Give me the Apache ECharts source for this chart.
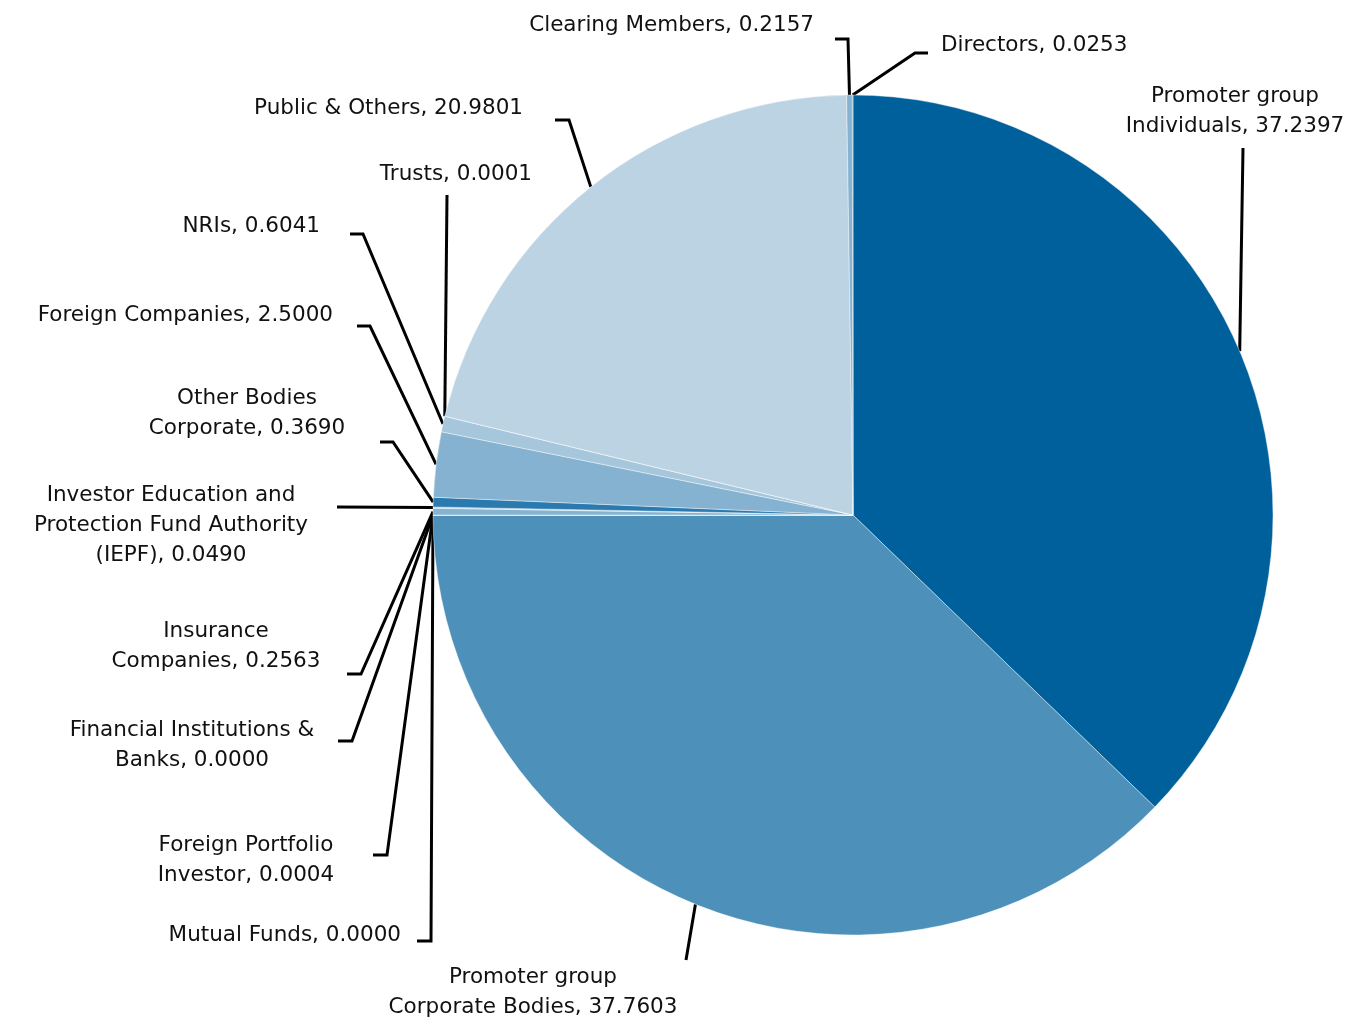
<!DOCTYPE html>
<html>
<head>
<meta charset="utf-8">
<script src="https://cdn.jsdelivr.net/npm/echarts@6/dist/echarts.min.js"></script>
<style>
html,body{margin:0;padding:0;background:#fff;}
#chart{width:1349px;height:1019px;}
</style>
</head>
<body>
<div id="chart"></div>
<script>
// ---- data ----
var categories = [
  'Promoter group\nIndividuals',
  'Promoter group\nCorporate Bodies',
  'Mutual Funds',
  'Foreign Portfolio\nInvestor',
  'Financial Institutions &\nBanks',
  'Insurance\nCompanies',
  'Investor Education and\nProtection Fund Authority\n(IEPF)',
  'Other Bodies\nCorporate',
  'Foreign Companies',
  'NRIs',
  'Trusts',
  'Public & Others',
  'Clearing Members',
  'Directors'
];
var values = [37.2397, 37.7603, 0.0000, 0.0004, 0.0000, 0.2563, 0.0490, 0.3690, 2.5000, 0.6041, 0.0001, 20.9801, 0.2157, 0.0253];

// ---- styles ----
var colors = ['#00609c', '#4d91bb', '#2a7ab0', '#2a7ab0', '#2a7ab0', '#86b3d1', '#bbd3e3', '#2a7ab0', '#85b2d0', '#a6c6dc', '#bbd3e3', '#bbd3e3', '#86b3d1', '#4d91bb'];

// label placement: [x, y, align], and label-line bend points near the text
var labelPlace = [
  [1235, 111, 'center'],
  [533, 992, 'center'],
  [401, 935, 'right'],
  [246, 860, 'center'],
  [192, 745, 'center'],
  [216, 646, 'center'],
  [171, 525, 'center'],
  [247, 413, 'center'],
  [333, 315, 'right'],
  [320, 226, 'right'],
  [532, 174, 'right'],
  [523, 108, 'right'],
  [814, 25, 'right'],
  [941, 45, 'left']
];
var lineBends = [
  [[1243, 148]],
  [[686, 960]],
  [[431, 941], [417, 941]],
  [[387, 855], [373, 855]],
  [[352, 741], [338, 741]],
  [[361, 674], [347, 674]],
  [[337, 507]],
  [[393, 442], [380, 442]],
  [[370, 326], [357, 326]],
  [[363, 234], [350, 234]],
  [[447, 195]],
  [[569, 120], [555, 120]],
  [[848, 39], [835, 39]],
  [[915, 53], [928, 53]]
];

var chart = echarts.init(document.getElementById('chart'), null, {renderer: 'canvas'});
var data = categories.map(function (c, i) {
  return { name: c, value: values[i], itemStyle: { color: colors[i] } };
});

chart.setOption({
  animation: false,
  backgroundColor: '#ffffff',
  series: [{
    type: 'pie',
    center: [853, 515],
    radius: 420,
    startAngle: 90,
    clockwise: true,
    avoidLabelOverlap: false,
    minShowLabelAngle: 0,
    data: data,
    itemStyle: { borderColor: '#ffffff', borderWidth: 0.4 },
    emphasis: { disabled: true },
    label: {
      show: true,
      position: 'outside',
      fontFamily: 'DejaVu Sans',
      fontSize: 21.5,
      lineHeight: 30,
      color: '#111111',
      formatter: function (p) { return p.name + ', ' + p.value.toFixed(4); }
    },
    labelLine: {
      show: true,
      smooth: false,
      length: 10,
      length2: 10,
      lineStyle: { color: '#000000', width: 3 }
    }
  }]
});

chart.setOption({
  series: [{
    labelLayout: function (params) {
      var i = params.dataIndex;
      var pl = labelPlace[i];
      var res = { x: pl[0], y: pl[1], align: pl[2], verticalAlign: 'middle', hideOverlap: false, moveOverlap: false };
      if (params.labelLinePoints && params.labelLinePoints.length) {
        var edge = params.labelLinePoints[0];
        res.labelLinePoints = [[edge[0], edge[1]]].concat(lineBends[i]);
      }
      return res;
    }
  }]
});
</script>
</body>
</html>
